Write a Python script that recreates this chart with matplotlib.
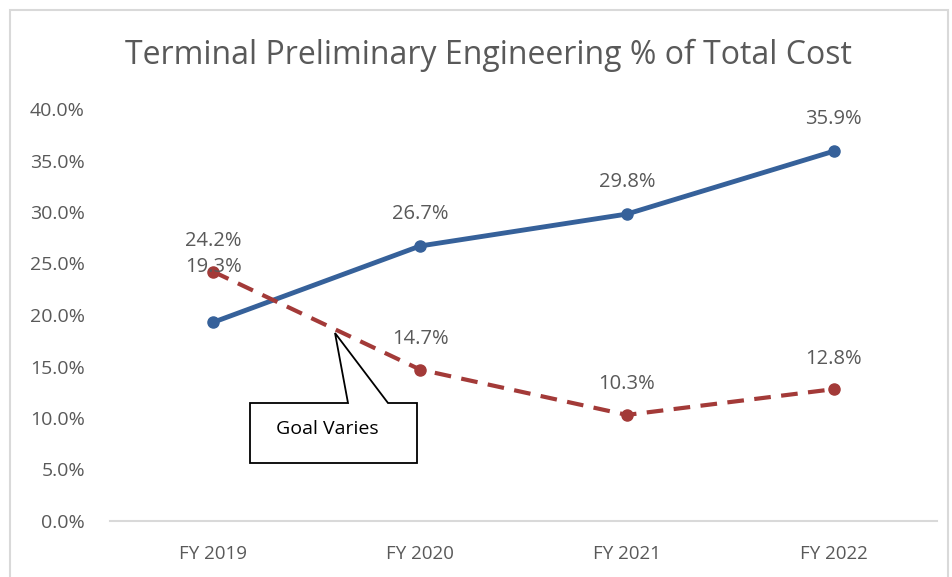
import matplotlib
matplotlib.use("Agg")
import matplotlib.pyplot as plt
from matplotlib.patches import Polygon, Rectangle

# data
years = ["FY 2019", "FY 2020", "FY 2021", "FY 2022"]
actual = [19.3, 26.7, 29.8, 35.9]
goal = [24.2, 14.7, 10.3, 12.8]
yticks = [0, 5, 10, 15, 20, 25, 30, 35, 40]

plt.rcParams['font.family'] = ['Open Sans', 'DejaVu Sans']

W, H = 953, 577
fig = plt.figure(figsize=(W / 100, H / 100), dpi=100)


def fx(px):
    return px / W


def fy(py):
    return 1 - py / H


ax = fig.add_axes([fx(110), fy(521), fx(937) - fx(110), fy(109) - fy(521)])

blue = '#36619A'
red = '#A33A38'
gray = '#595959'

x = list(range(len(years)))
ax.plot(x, actual, color=blue, lw=3.5, marker='o', ms=8, solid_capstyle='round', zorder=3)
ax.plot(x, goal, color=red, lw=3, marker='o', ms=8, dashes=(4, 2.5), zorder=3)

# data labels
for i, v in enumerate(actual):
    off = 40 if i == 0 else 23
    ax.annotate(f"{v:.1f}%", (i, v), xytext=(0, off), textcoords='offset points',
                ha='center', va='center', fontsize=14.5, color=gray)
for i, v in enumerate(goal):
    ax.annotate(f"{v:.1f}%", (i, v), xytext=(0, 22), textcoords='offset points',
                ha='center', va='center', fontsize=14.5, color=gray)

ax.set_xlim(-0.5, 3.5)
ax.set_ylim(0, 40)
ax.set_yticks(yticks)
ax.set_yticklabels([f"{t:.1f}%" for t in yticks])
ax.set_xticks(x)
ax.set_xticklabels(years)
ax.tick_params(axis='y', length=0, labelsize=14, labelcolor=gray, pad=18)
ax.tick_params(axis='x', length=0, labelsize=13.5, labelcolor=gray, pad=17)
for s in ['top', 'right', 'left']:
    ax.spines[s].set_visible(False)
ax.spines['bottom'].set_color('#D9D9D9')
ax.spines['bottom'].set_linewidth(1.5)

fig.text(fx(488), fy(55), "Terminal Preliminary Engineering % of Total Cost",
         ha='center', va='center', fontsize=23, color=gray)

# chart border
fig.patches.append(Rectangle((fx(10), fy(590)), fx(948) - fx(10), fy(10) - fy(590),
                             transform=fig.transFigure, fill=False,
                             edgecolor='#D9D9D9', lw=1.5))

# callout
callout = Polygon([(fx(250), fy(403)), (fx(348), fy(403)), (fx(335), fy(333)),
                   (fx(388), fy(403)), (fx(417), fy(403)), (fx(417), fy(463)),
                   (fx(250), fy(463))], closed=True, transform=fig.transFigure,
                  facecolor='white', edgecolor='black', lw=1.3, zorder=5)
fig.patches.append(callout)
fig.text(fx(327), fy(429), "Goal Varies", ha='center', va='center',
         fontsize=14, color='black', zorder=6)

fig.savefig("out.png", dpi=100)
